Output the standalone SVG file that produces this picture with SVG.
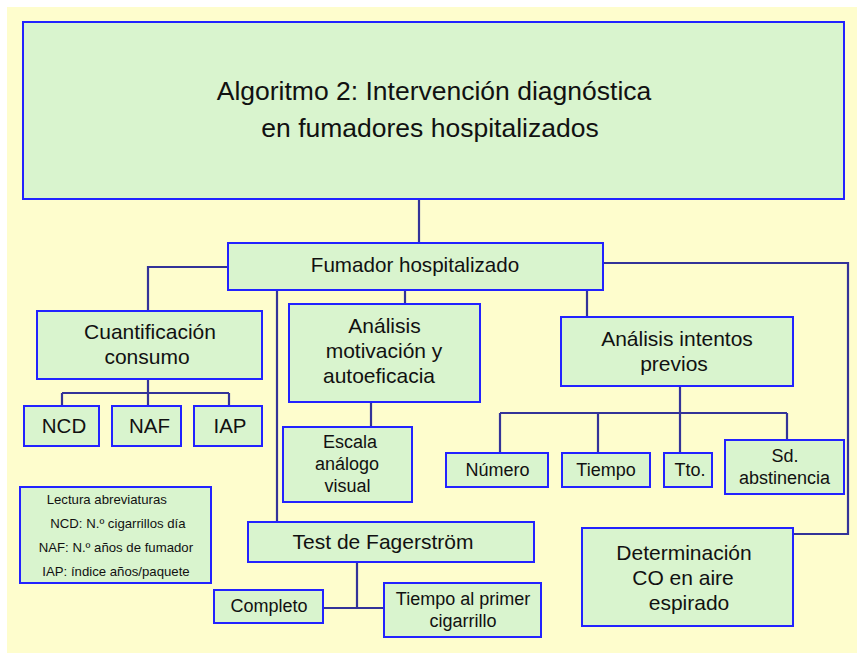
<svg xmlns="http://www.w3.org/2000/svg" width="857" height="653" viewBox="0 0 857 653">
<style>
.box{fill:#d9f4ce;stroke:#2222ff;stroke-width:2}
.con{fill:none;stroke:#333399;stroke-width:2.2}
text{font-family:"Liberation Sans",Arial,Helvetica,sans-serif;fill:#111;text-anchor:middle}
.t{font-size:26.5px}
.b{font-size:21px}
.s{font-size:18px}
.l{font-size:13.2px;text-anchor:start}
</style>
<rect x="0" y="0" width="857" height="653" fill="#ffffff"/>
<rect x="7" y="7" width="850" height="646" fill="#fefdcd"/>
<g id="connectors">
<path class="con" d="M419 199V243"/>
<path class="con" d="M228 267H148V311"/>
<path class="con" d="M405 290V304"/>
<path class="con" d="M587 290V317"/>
<path class="con" d="M277 290V522"/>
<path class="con" d="M603 263H848V534H793"/>
<path class="con" d="M148 379V393M62 393H229M62 393V406M148 393V406M229 393V406"/>
<path class="con" d="M371 402V427"/>
<path class="con" d="M680 386V413M500 413H787M500 413V453M598 413V453M680 413V453M787 413V440"/>
<path class="con" d="M357 562V608M323 608H384"/>
</g>
<g id="title"><rect class="box" x="23" y="22" width="821" height="177"/>
<text class="t" x="434" y="100">Algoritmo 2: Intervención diagnóstica</text>
<text class="t" x="430" y="137">en fumadores hospitalizados</text></g>
<g id="fumador"><rect class="box" x="228" y="243" width="375" height="47"/>
<text style="font-size:20.6px" x="415" y="272">Fumador hospitalizado</text></g>
<g id="cuantificacion"><rect class="box" x="37" y="311" width="225" height="68"/>
<text class="b" x="150" y="339">Cuantificación</text>
<text class="b" x="147" y="364">consumo</text></g>
<g id="ncd"><rect class="box" x="24" y="406" width="75" height="40"/><text style="font-size:20.5px" x="64" y="433">NCD</text></g>
<g id="naf"><rect class="box" x="112" y="406" width="69" height="40"/><text style="font-size:20.5px" x="149.5" y="433">NAF</text></g>
<g id="iap"><rect class="box" x="194" y="406" width="68" height="40"/><text style="font-size:20.5px" x="230" y="433">IAP</text></g>
<g id="motivacion"><rect class="box" x="289" y="304" width="191" height="98"/>
<text class="b" x="384.5" y="333">Análisis</text>
<text class="b" x="384" y="358">motivación y</text>
<text class="b" x="379" y="383">autoeficacia</text></g>
<g id="escala"><rect class="box" x="283" y="427" width="129" height="75"/>
<text class="s" x="350" y="448">Escala</text>
<text class="s" x="347" y="470">análogo</text>
<text class="s" x="347.5" y="491.5">visual</text></g>
<g id="intentos"><rect class="box" x="561" y="317" width="232" height="69"/>
<text class="b" x="677" y="346">Análisis intentos</text>
<text class="b" x="674" y="370.5">previos</text></g>
<g id="numero"><rect class="box" x="446" y="453" width="102" height="34"/><text class="s" x="497.5" y="475.5">Número</text></g>
<g id="tiempo"><rect class="box" x="562" y="453" width="88" height="34"/><text class="s" x="606" y="475.5">Tiempo</text></g>
<g id="tto"><rect class="box" x="664" y="453" width="48" height="34"/><text class="s" x="690" y="475.5">Tto.</text></g>
<g id="sd"><rect class="box" x="725" y="440" width="119" height="54"/>
<text class="s" x="785" y="462">Sd.</text>
<text class="s" x="784.5" y="483.5">abstinencia</text></g>
<g id="leyenda"><rect class="box" x="20" y="487" width="191" height="96"/>
<text class="l" x="46.7" y="504">Lectura abreviaturas</text>
<text class="l" x="50.3" y="528">NCD: N.º cigarrillos día</text>
<text class="l" x="38.7" y="552">NAF: N.º años de fumador</text>
<text class="l" x="42.3" y="575.5">IAP: índice años/paquete</text></g>
<g id="fagerstrom"><rect class="box" x="248" y="522" width="286" height="40"/>
<text class="b" x="383" y="548.5">Test de Fagerström</text></g>
<g id="completo"><rect class="box" x="214" y="590" width="109" height="33"/>
<text class="s" x="269" y="611.5">Completo</text></g>
<g id="primer"><rect class="box" x="384" y="583" width="157" height="54"/>
<text class="s" x="463" y="605">Tiempo al primer</text>
<text class="s" x="463" y="627">cigarrillo</text></g>
<g id="co"><rect class="box" x="582" y="528" width="211" height="98"/>
<text class="b" x="684" y="560">Determinación</text>
<text class="b" x="683" y="585">CO en aire</text>
<text class="b" x="689" y="609.5">espirado</text></g>
</svg>
